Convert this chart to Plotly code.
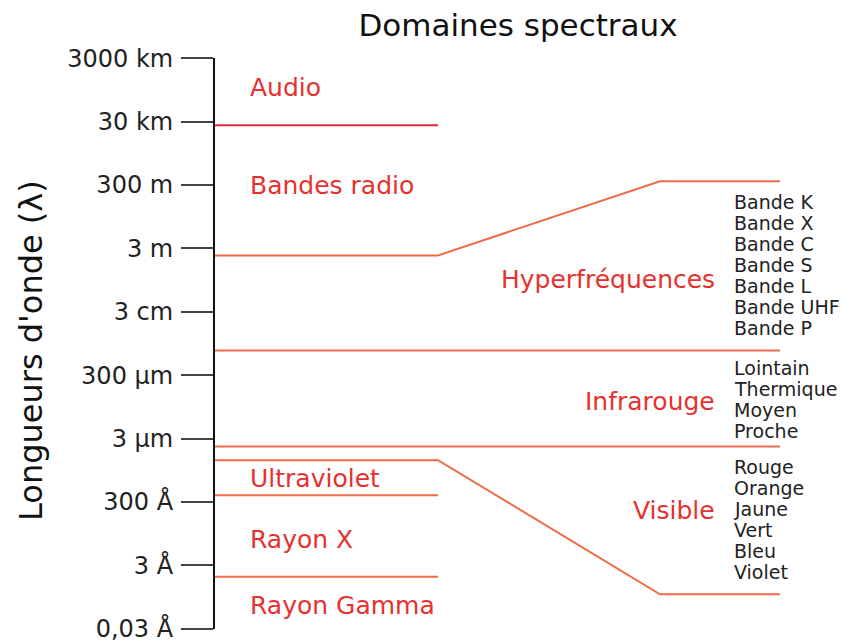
import numpy as np
import plotly.graph_objects as go

FONT = 'DejaVu Sans, Verdana, sans-serif'
RED = '#e6312f'
LINE_RED = '#e2294a'
LINE_ORANGE = '#ef6b47'

# y axis: wavelength in metres (log scale)
TICK_VALS = [3e6, 3e4, 300, 3, 0.03, 3e-4, 3e-6, 3e-8, 3e-10, 3e-12]
TICK_TEXT = ['3000 km', '30 km', '300 m', '3 m', '3 cm', '300 µm', '3 µm',
             '300 Å', '3 Å', '0,03 Å']

# horizontal columns of the diagram (distance from the axis)
COL_AXIS = 0
COL_SPLIT = 223
COL_ZOOM = 445
COL_END = 565

# domain boundaries (left part, metres)
AUDIO_RADIO = 2.3e4
RADIO_MICRO = 1.8
MICRO_IR = 1.8e-3
IR_VIS = 1.7e-6
VIS_UV = 6.3e-7
UV_X = 4.9e-8
X_GAMMA = 1.33e-10
# expanded part on the right
MICRO_TOP_ZOOM = 390
VIS_BOTTOM_ZOOM = 3.7e-11

LEFT_LABELS = ['Audio', 'Bandes radio', 'Ultraviolet', 'Rayon X', 'Rayon Gamma']
LEFT_LABEL_Y = [3.5e5, 282, 1.64e-7, 1.95e-9, 1.6e-11]
RIGHT_LABELS = ['Hyperfréquences', 'Infrarouge', 'Visible']
RIGHT_LABEL_Y = [0.31, 4.4e-5, 1.6e-8]

MICRO_BANDS = ['Bande K', 'Bande X', 'Bande C', 'Bande S', 'Bande L', 'Bande UHF', 'Bande P']
IR_BANDS = ['Lointain', 'Thermique', 'Moyen', 'Proche']
VIS_BANDS = ['Rouge', 'Orange', 'Jaune', 'Vert', 'Bleu', 'Violet']
BAND_TOP = [85, 5.2e-4, 3.9e-7]  # first line of each list

fig = go.Figure()

segments = [
    ([COL_AXIS, COL_SPLIT], [AUDIO_RADIO, AUDIO_RADIO], LINE_RED),
    ([COL_AXIS, COL_SPLIT, COL_ZOOM, COL_END],
     [RADIO_MICRO, RADIO_MICRO, MICRO_TOP_ZOOM, MICRO_TOP_ZOOM], LINE_ORANGE),
    ([COL_AXIS, COL_END], [MICRO_IR, MICRO_IR], LINE_ORANGE),
    ([COL_AXIS, COL_END], [IR_VIS, IR_VIS], LINE_ORANGE),
    ([COL_AXIS, COL_SPLIT, COL_ZOOM, COL_END],
     [VIS_UV, VIS_UV, VIS_BOTTOM_ZOOM, VIS_BOTTOM_ZOOM], LINE_ORANGE),
    ([COL_AXIS, COL_SPLIT], [UV_X, UV_X], LINE_ORANGE),
    ([COL_AXIS, COL_SPLIT], [X_GAMMA, X_GAMMA], LINE_ORANGE),
]
for xs, ys, col in segments:
    fig.add_trace(go.Scatter(x=xs, y=ys, mode='lines', line=dict(color=col, width=2),
                             hoverinfo='skip', showlegend=False, cliponaxis=False))

annotations = []
for txt, yv in zip(LEFT_LABELS, LEFT_LABEL_Y):
    annotations.append(dict(x=33, y=np.log10(yv), text=txt, xanchor='left', yanchor='middle',
                            showarrow=False, font=dict(family=FONT, size=25, color=RED)))
for txt, yv in zip(RIGHT_LABELS, RIGHT_LABEL_Y):
    annotations.append(dict(x=502, y=np.log10(yv), text=txt, xanchor='right', yanchor='middle',
                            showarrow=False, font=dict(family=FONT, size=25, color=RED)))

step = 21 / (571 / 18)  # one text line, in decades
for bands, top in zip([MICRO_BANDS, IR_BANDS, VIS_BANDS], BAND_TOP):
    for i, txt in enumerate(bands):
        annotations.append(dict(x=517, y=np.log10(top) - i * step, text=txt,
                                xanchor='left', yanchor='middle', showarrow=False,
                                font=dict(family=FONT, size=19, color='#222')))

annotations.append(dict(x=-0.292, y=0.487, xref='paper', yref='paper',
                        text="Longueurs d'onde (λ)", textangle=-90, showarrow=False,
                        xanchor='center', yanchor='middle',
                        font=dict(family=FONT, size=32, color='#111')))

fig.update_layout(
    width=845, height=643, autosize=False,
    plot_bgcolor='white', paper_bgcolor='white',
    margin=dict(l=215, r=0, t=58, b=14),
    title=dict(text='Domaines spectraux', x=0.613, y=0.961, xref='container', yref='container',
               xanchor='center', yanchor='middle',
               font=dict(family=FONT, size=31, color='#111')),
    xaxis=dict(range=[0, 630], visible=False),
    yaxis=dict(type='log', range=[np.log10(3e-12) - 0.003, np.log10(3e6) + 0.003],
               tickvals=TICK_VALS, ticktext=TICK_TEXT,
               showline=True, linecolor='#111', linewidth=2,
               ticks='outside', ticklen=32, tickwidth=2, tickcolor='#444',
               ticklabelstandoff=3, ticklabeloverflow='allow',
               showgrid=False, zeroline=False,
               tickfont=dict(family=FONT, size=24, color='#222')),
    annotations=annotations,
    showlegend=False,
)

fig.write_html('out.html', config={'displayModeBar': False},
               post_script="document.body.style.margin='0';")
